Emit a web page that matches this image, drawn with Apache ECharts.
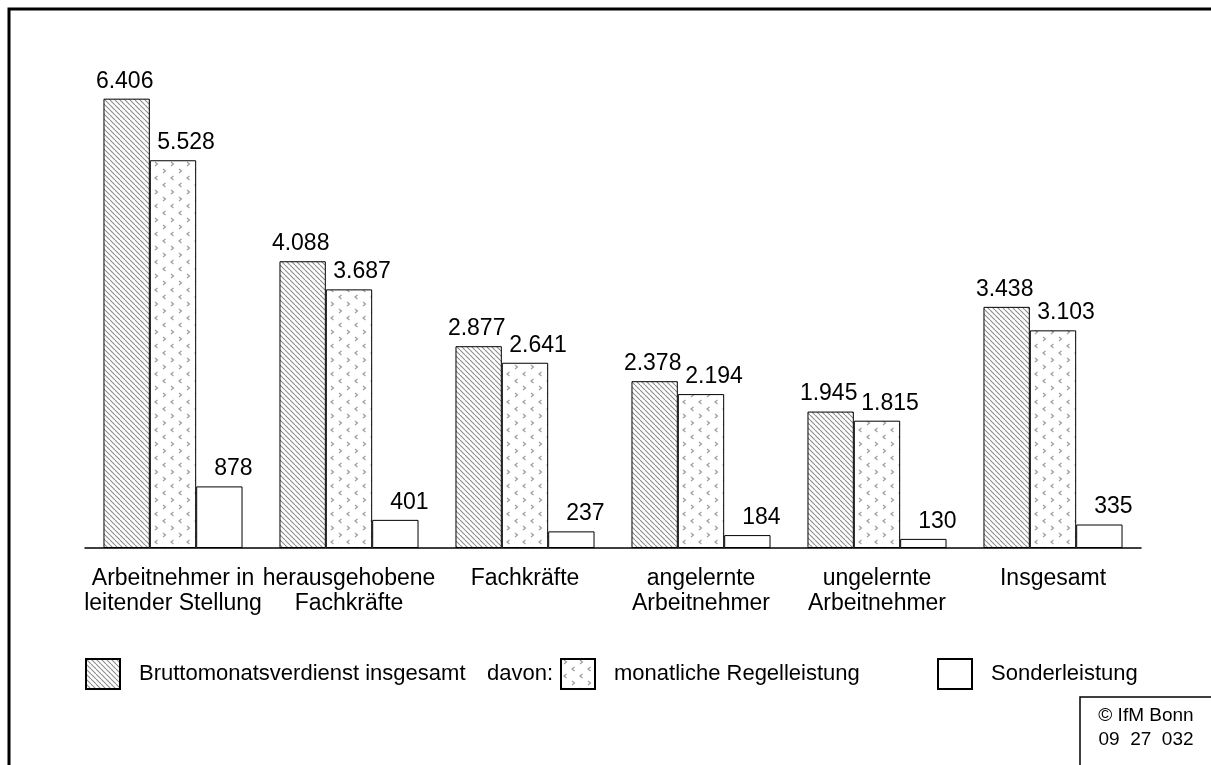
<!DOCTYPE html>
<html>
<head>
<meta charset="utf-8">
<script src="https://cdn.jsdelivr.net/npm/echarts@6/dist/echarts.min.js"></script>
<style>
html,body{margin:0;padding:0;background:#fff;}
#chart{width:1211px;height:765px;}
</style>
</head>
<body>
<div id="chart"></div>
<script>
// Kategorien und Werte (Euro)
var categories = ['Arbeitnehmer in\nleitender Stellung', 'herausgehobene\nFachkräfte', 'Fachkräfte', 'angelernte\nArbeitnehmer', 'ungelernte\nArbeitnehmer', 'Insgesamt'];
var seriesNames = ['Bruttomonatsverdienst insgesamt', 'monatliche Regelleistung', 'Sonderleistung'];
var brutto = [6406, 4088, 2877, 2378, 1945, 3438];
var regel = [5528, 3687, 2641, 2194, 1815, 3103];
var sonder = [878, 401, 237, 184, 130, 335];

// Schraffur-Muster
function hatchPattern(){
    var c = document.createElement('canvas');
    var s = 5;
    c.width = s; c.height = s;
    var ctx = c.getContext('2d');
    ctx.fillStyle = '#fff';
    ctx.fillRect(0, 0, s, s);
    ctx.strokeStyle = '#8c8c8c';
    ctx.lineWidth = 1.1;
    [-s, 0, s].forEach(function(k){
        ctx.beginPath();
        ctx.moveTo(k, 0);
        ctx.lineTo(k + s, s);
        ctx.stroke();
    });
    return c;
}
// Punkt-Muster (kleine Winkel < >)
function dotPattern(){
    var c = document.createElement('canvas');
    c.width = 16; c.height = 28;
    var ctx = c.getContext('2d');
    ctx.fillStyle = '#fff';
    ctx.fillRect(0, 0, 16, 28);
    ctx.strokeStyle = '#999';
    ctx.lineWidth = 1.1;
    function mark(x, y, dir){
        ctx.beginPath();
        ctx.moveTo(x + (dir > 0 ? 0 : 2.5), y);
        ctx.lineTo(x + (dir > 0 ? 2.5 : 0), y + 2);
        ctx.lineTo(x + (dir > 0 ? 0 : 2.5), y + 4);
        ctx.stroke();
    }
    mark(3, 1, 1);
    mark(11, 8, -1);
    mark(3, 15, -1);
    mark(11, 22, 1);
    return c;
}

var myChart = echarts.init(document.getElementById('chart'));
var border = {borderColor: '#000', borderWidth: 1};

function $extend(a, b){
    for(var k in b){ a[k] = b[k]; }
    return a;
}
function fmt(v){
    return v >= 1000 ? Math.floor(v / 1000) + '.' + String(v % 1000).padStart(3, '0') : String(v);
}
function barSeries(name, data, color, dx){
    return {
        name: name,
        type: 'bar',
        data: data,
        barGap: '0%',
        barCategoryGap: '21%',
        itemStyle: $extend({color: color}, border),
        label: {
            show: true,
            position: 'top',
            distance: 6,
            offset: [dx, 0],
            fontSize: 23,
            fontFamily: 'Liberation Sans',
            color: '#000',
            formatter: function(p){ return fmt(p.value); }
        },
        emphasis: {disabled: true}
    };
}
function legendItem(name, left){
    return {
        data: [name],
        left: left,
        top: 653,
        icon: 'rect',
        itemWidth: 34,
        itemHeight: 30,
        selectedMode: false,
        textStyle: {fontSize: 22, fontFamily: 'Liberation Sans', color: '#000', padding: [0, 0, 0, 14]}
    };
}

var option = {
    animation: false,
    backgroundColor: '#fff',
    grid: {
        left: 85,
        right: 70,
        top: 57,
        bottom: 217,
        outerBoundsMode: 'none'
    },
    legend: [
        legendItem(seriesNames[0], 80),
        legendItem(seriesNames[1], 555),
        legendItem(seriesNames[2], 932)
    ],
    xAxis: {
        type: 'category',
        data: categories,
        axisLine: {lineStyle: {color: '#000', width: 1.5}},
        axisTick: {show: false},
        axisLabel: {
            interval: 0,
            margin: 18,
            fontSize: 23,
            lineHeight: 25,
            verticalAlign: 'top',
            fontFamily: 'Liberation Sans',
            color: '#000'
        }
    },
    yAxis: {
        type: 'value',
        min: 0,
        max: 7000,
        show: false
    },
    series: [
        barSeries(seriesNames[0], brutto, {image: hatchPattern(), repeat: 'repeat'}, -2),
        barSeries(seriesNames[1], regel, {image: dotPattern(), repeat: 'repeat'}, 13),
        barSeries(seriesNames[2], sonder, '#fff', 14)
    ],
    graphic: [
        {
            type: 'rect',
            shape: {x: 9, y: 9, width: 1400, height: 1000},
            style: {fill: 'none', stroke: '#000', lineWidth: 3}
        },
        {
            type: 'text',
            x: 487,
            y: 674,
            style: {text: 'davon:', fontSize: 22, fontFamily: 'Liberation Sans', fill: '#000', verticalAlign: 'middle'}
        },
        {
            type: 'rect',
            shape: {x: 1080, y: 697, width: 300, height: 200},
            style: {fill: '#fff', stroke: '#000', lineWidth: 1.5}
        },
        {
            type: 'text',
            x: 1146,
            y: 704,
            style: {text: '© IfM Bonn\n09  27  032', fontSize: 19, lineHeight: 24, align: 'center', fill: '#000', fontFamily: 'Liberation Sans'}
        }
    ]
};
myChart.setOption(option);
window.onresize = function(){
    myChart.resize();
};
</script>
</body>
</html>
